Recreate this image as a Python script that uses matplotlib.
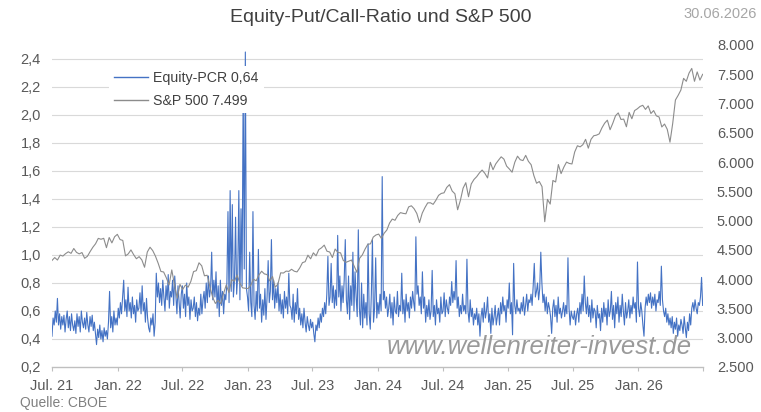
import matplotlib
matplotlib.use('Agg')
import matplotlib.pyplot as plt
import pandas as pd

plt.rcParams['font.family'] = ['Liberation Sans', 'DejaVu Sans']

# Zeitraum der Daten
start_date = '2021-07-01'
end_date = '2026-06-30'

# Equity-Put/Call-Ratio, ca. 10 Werte je Monat
pcr_2021 = [
    0.42, 0.55, 0.50, 0.60, 0.52, 0.69, 0.50, 0.58, 0.47, 0.56,  # Jul
    0.50, 0.57, 0.45, 0.54, 0.60, 0.48, 0.56, 0.46, 0.58, 0.50,  # Aug
    0.46, 0.53, 0.44, 0.58, 0.49, 0.56, 0.45, 0.60, 0.52, 0.48,  # Sep
    0.55, 0.47, 0.59, 0.50, 0.45, 0.56, 0.49, 0.57, 0.46, 0.52,  # Okt
    0.44, 0.36, 0.47, 0.41, 0.50, 0.40, 0.46, 0.38, 0.48, 0.42,  # Nov
    0.46, 0.40, 0.52, 0.74, 0.48, 0.56, 0.45, 0.60, 0.50, 0.55,  # Dez
]
pcr_2022 = [
    0.50, 0.62, 0.55, 0.66, 0.58, 0.70, 0.82, 0.60, 0.68, 0.56,
    0.77, 0.60, 0.66, 0.55, 0.70, 0.58, 0.64, 0.52, 0.68, 0.60,
    0.62, 0.73, 0.58, 0.78, 0.60, 0.66, 0.52, 0.69, 0.55, 0.48,
    0.45, 0.55, 0.50, 0.58, 0.42, 0.52, 0.87, 0.70, 0.80, 0.66,
    0.76, 0.64, 0.82, 0.70, 0.60, 0.78, 0.68, 0.86, 0.62, 0.74,
    0.70, 0.82, 0.64, 0.85, 0.72, 0.58, 0.78, 0.66, 0.55, 0.72,
    0.78, 0.62, 0.72, 0.56, 0.80, 0.64, 0.70, 0.54, 0.68, 0.60,
    0.62, 0.70, 0.56, 0.66, 0.53, 0.62, 0.57, 0.72, 0.58, 0.68,
    0.74, 0.62, 0.80, 0.66, 0.85, 0.70, 0.76, 1.02, 0.68, 0.82,
    0.70, 0.88, 0.62, 0.78, 0.56, 0.82, 0.64, 0.74, 0.58, 0.72,
    0.68, 0.80, 1.31, 0.66, 1.46, 0.74, 1.36, 0.70, 0.82, 1.27,
    0.72, 0.86, 1.46, 0.68, 1.33, 0.78, 2.20, 0.90, 2.45, 0.76,
]
pcr_2023 = [
    0.70, 0.60, 1.02, 0.66, 0.56, 1.31, 0.64, 0.54, 0.74, 0.60,
    1.04, 0.62, 0.72, 0.52, 0.68, 0.57, 0.76, 0.54, 0.70, 0.96,
    0.66, 0.74, 1.11, 0.68, 0.82, 0.62, 0.76, 0.66, 0.80, 0.60,
    0.72, 0.58, 0.68, 0.55, 0.74, 0.62, 0.70, 0.58, 0.87, 0.64,
    0.62, 0.54, 0.72, 0.52, 0.66, 0.58, 0.76, 0.54, 0.62, 0.50,
    0.58, 0.48, 0.62, 0.52, 0.45, 0.56, 0.50, 0.46, 0.54, 0.48,
    0.52, 0.44, 0.38, 0.50, 0.46, 0.55, 0.48, 0.58, 0.52, 0.62,
    0.56, 0.66, 0.58, 0.72, 0.99, 0.64, 0.70, 0.94, 0.66, 0.78,
    0.62, 0.75, 0.64, 1.14, 0.70, 0.85, 0.60, 0.78, 0.66, 0.82,
    1.11, 0.68, 0.58, 0.85, 0.54, 0.78, 0.64, 1.02, 0.60, 0.88,
    0.70, 0.56, 1.18, 0.62, 0.50, 0.80, 0.48, 0.72, 0.55, 0.66,
    0.50, 1.08, 0.58, 0.47, 0.72, 1.11, 0.52, 0.62, 0.98, 0.55,
]
pcr_2024 = [
    0.66, 0.58, 0.72, 0.60, 1.56, 0.68, 0.74, 0.62, 0.70, 0.56,
    0.62, 0.72, 0.55, 0.66, 0.50, 0.70, 0.60, 0.58, 0.74, 0.56,
    0.64, 0.60, 0.87, 0.58, 0.68, 0.52, 0.72, 0.60, 0.66, 0.55,
    0.70, 0.62, 0.74, 0.66, 0.60, 1.13, 0.72, 0.78, 0.64, 0.70,
    0.58, 0.88, 0.62, 0.70, 0.52, 0.64, 0.56, 0.68, 0.54, 0.60,
    0.89, 0.56, 0.64, 0.50, 0.68, 0.58, 0.62, 0.52, 0.70, 0.58,
    0.60, 0.73, 0.56, 0.68, 0.62, 0.58, 0.70, 0.64, 0.81, 0.66,
    0.74, 0.68, 0.96, 0.62, 0.70, 0.56, 0.64, 0.58, 0.72, 0.60,
    0.64, 0.58, 0.97, 0.60, 0.52, 0.68, 0.56, 0.62, 0.50, 0.58,
    0.54, 0.62, 0.50, 0.58, 0.42, 0.56, 0.62, 0.52, 0.66, 0.55,
    0.60, 0.70, 0.52, 0.58, 0.44, 0.62, 0.50, 0.56, 0.64, 0.50,
    0.56, 0.62, 0.50, 0.66, 0.58, 0.70, 0.60, 0.64, 0.52, 0.68,
]
pcr_2025 = [
    0.62, 0.80, 0.58, 0.66, 0.43, 0.94, 0.64, 0.58, 0.68, 0.60,
    0.62, 0.58, 0.66, 0.60, 0.70, 0.57, 0.64, 0.72, 0.60, 0.68,
    0.66, 0.72, 0.64, 0.78, 0.94, 0.70, 0.74, 0.80, 0.68, 0.76,
    1.02, 0.80, 0.66, 0.72, 0.60, 0.70, 0.58, 0.66, 0.62, 0.56,
    0.44, 0.62, 0.68, 0.56, 0.64, 0.52, 0.70, 0.58, 0.62, 0.55,
    0.60, 0.66, 0.56, 0.64, 0.58, 0.98, 0.62, 0.50, 0.60, 0.56,
    0.54, 0.60, 0.50, 0.58, 0.62, 0.52, 0.66, 0.58, 0.72, 0.60,
    0.85, 0.66, 0.58, 0.70, 0.56, 0.64, 0.52, 0.68, 0.55, 0.62,
    0.60, 0.48, 0.64, 0.55, 0.58, 0.46, 0.62, 0.52, 0.66, 0.56,
    0.62, 0.50, 0.68, 0.56, 0.60, 0.74, 0.54, 0.64, 0.48, 0.66,
    0.58, 0.70, 0.52, 0.64, 0.56, 0.72, 0.60, 0.50, 0.66, 0.55,
    0.60, 0.68, 0.55, 0.64, 0.58, 0.70, 0.62, 0.66, 0.52, 0.95,
]
pcr_2026 = [
    0.62, 0.56, 0.66, 0.60, 0.50, 0.42, 0.62, 0.70, 0.64, 0.72,
    0.66, 0.73, 0.62, 0.70, 0.64, 0.72, 0.60, 0.68, 0.66, 0.74,
    0.64, 0.92, 0.68, 0.60, 0.56, 0.62, 0.52, 0.58, 0.50, 0.55,
    0.48, 0.56, 0.44, 0.52, 0.47, 0.55, 0.42, 0.50, 0.46, 0.54,
    0.50, 0.44, 0.56, 0.48, 0.41, 0.52, 0.46, 0.58, 0.50, 0.62,
    0.66, 0.60, 0.68, 0.62, 0.58, 0.66, 0.64, 0.70, 0.84, 0.64,
]

# S&P 500, 4 Werte je Monat
spx_2021 = [
    4320, 4369, 4327, 4411,
    4395, 4437, 4468, 4441,
    4524, 4458, 4432, 4455,
    4357, 4391, 4471, 4545,
    4605, 4697, 4682, 4698,
    4538, 4712, 4620, 4725,
]
spx_2022 = [
    4766, 4677, 4662, 4398,
    4432, 4500, 4418, 4349,
    4385, 4329, 4204, 4463,
    4546, 4488, 4393, 4272,
    4132, 4123, 4023, 3901,
    4158, 3901, 3675, 3912,
    3825, 3899, 3863, 3962,
    4130, 4145, 4280, 4228,
    4058, 4067, 3873, 3693,
    3586, 3640, 3583, 3753,
    3901, 3771, 3993, 3965,
    4072, 3934, 3852, 3845,
]
spx_2023 = [
    3840, 3895, 3999, 3973,
    4071, 4136, 4090, 4079,
    3970, 4046, 3862, 3917,
    4109, 4105, 4138, 4133,
    4169, 4136, 4124, 4192,
    4282, 4299, 4410, 4348,
    4450, 4399, 4505, 4536,
    4582, 4478, 4464, 4370,
    4515, 4457, 4450, 4320,
    4288, 4308, 4327, 4224,
    4117, 4358, 4415, 4514,
    4595, 4604, 4719, 4755,
]
spx_2024 = [
    4770, 4697, 4784, 4840,
    4959, 5027, 5006, 5089,
    5137, 5124, 5117, 5234,
    5254, 5204, 5123, 4967,
    5128, 5223, 5303, 5305,
    5278, 5347, 5432, 5465,
    5475, 5567, 5615, 5505,
    5459, 5186, 5344, 5554,
    5648, 5408, 5626, 5703,
    5751, 5815, 5864, 5808,
    5729, 5996, 5870, 5969,
    6032, 6090, 6051, 5931,
]
spx_2025 = [
    5882, 5827, 5997, 6101,
    6040, 6026, 6115, 6013,
    5955, 5770, 5639, 5668,
    5581, 4982, 5363, 5283,
    5686, 5660, 5958, 5803,
    5912, 6000, 5977, 5968,
    6173, 6279, 6260, 6297,
    6389, 6238, 6389, 6450,
    6460, 6482, 6584, 6664,
    6716, 6553, 6664, 6792,
    6840, 6728, 6734, 6603,
    6849, 6740, 6880, 6910,
]
spx_2026 = [
    6950, 6970, 6900, 6960,
    6830, 6880, 6790, 6770,
    6600, 6650, 6560, 6340,
    6660, 7060, 7140, 7230,
    7430, 7380, 7520, 7600,
    7380, 7540, 7400, 7499,
]

x_ticks = ['2021-07-01', '2022-01-01', '2022-07-01', '2023-01-01', '2023-07-01',
           '2024-01-01', '2024-07-01', '2025-01-01', '2025-07-01', '2026-01-01',
           '2026-07-01']
x_labels = ['Jul. 21', 'Jan. 22', 'Jul. 22', 'Jan. 23', 'Jul. 23', 'Jan. 24',
            'Jul. 24', 'Jan. 25', 'Jul. 25', 'Jan. 26', '']

pcr = pcr_2021 + pcr_2022 + pcr_2023 + pcr_2024 + pcr_2025 + pcr_2026
spx = spx_2021 + spx_2022 + spx_2023 + spx_2024 + spx_2025 + spx_2026
pcr_dates = pd.date_range(start_date, end_date, periods=len(pcr))
spx_dates = pd.date_range(start_date, end_date, periods=len(spx))

W, H = 761, 412
fig = plt.figure(figsize=(W / 100, H / 100), dpi=100)
ax1 = fig.add_axes([52 / W, 45 / H, 651 / W, 322 / H])
ax2 = ax1.twinx()

label_color = '#595959'
blue = '#4472C4'
grey = '#8c8c8c'

line_pcr, = ax1.plot(pcr_dates, pcr, color=blue, linewidth=0.8, zorder=3)
line_spx, = ax2.plot(spx_dates, spx, color=grey, linewidth=0.8, zorder=2)

# linke Achse
ax1.set_ylim(0.2, 2.5)
left_ticks = [0.2, 0.4, 0.6, 0.8, 1.0, 1.2, 1.4, 1.6, 1.8, 2.0, 2.2, 2.4]
ax1.set_yticks(left_ticks)
ax1.set_yticklabels([f'{t:.1f}'.replace('.', ',') for t in left_ticks])
for t in left_ticks[1:]:
    ax1.axhline(t, color='#d9d9d9', linewidth=0.8, zorder=0)

# rechte Achse
ax2.set_ylim(2500, 8000)
right_ticks = list(range(2500, 8001, 500))
ax2.set_yticks(right_ticks)
ax2.set_yticklabels([f'{t:,}'.replace(',', '.') for t in right_ticks])

# x-Achse
ax1.set_xlim(pd.Timestamp(start_date), pd.Timestamp('2026-07-01'))
ax1.set_xticks(pd.to_datetime(x_ticks))
ax1.set_xticklabels(x_labels)

for ax in (ax1, ax2):
    for side in ('top', 'left', 'right', 'bottom'):
        ax.spines[side].set_visible(False)
ax1.spines['bottom'].set_visible(True)
ax1.spines['bottom'].set_color('#bfbfbf')
ax1.spines['bottom'].set_linewidth(1.0)

ax1.tick_params(axis='x', direction='out', length=3, width=0.8, color='#bfbfbf',
                labelsize=10.5, labelcolor=label_color, pad=6)
ax1.tick_params(axis='y', length=0, labelsize=10.5, labelcolor=label_color, pad=8)
ax2.tick_params(axis='y', length=0, labelsize=10.5, labelcolor=label_color, pad=10)

# Legende
pcr_label = 'Equity-PCR ' + f'{pcr[-1]:.2f}'.replace('.', ',')
spx_label = 'S&P 500 ' + f'{spx[-1]:,}'.replace(',', '.')
leg = ax2.legend([line_pcr, line_spx], [pcr_label, spx_label],
                 loc='upper left', bbox_to_anchor=(0.088, 0.935),
                 fontsize=10.2, frameon=True, fancybox=False,
                 handlelength=2.4, handletextpad=0.35, labelspacing=0.65,
                 borderpad=0.35, borderaxespad=0)
leg.get_frame().set_facecolor('white')
leg.get_frame().set_edgecolor('none')
leg.get_frame().set_alpha(1)
for txt in leg.get_texts():
    txt.set_color('#404040')
for h in leg.legend_handles:
    h.set_linewidth(1.0)
leg.set_zorder(10)

# Texte
fig.text(0.5, 1 - 17 / H, 'Equity-Put/Call-Ratio und S&P 500', ha='center', va='center',
         fontsize=14, color='#404040')
fig.text(757 / W, 1 - 14 / H, '30.06.2026', ha='right', va='center',
         fontsize=10.5, color='#a6a6a6')
fig.text(20 / W, 1 - 403 / H, 'Quelle: CBOE', ha='left', va='center',
         fontsize=10, color='#808080')
fig.text(539 / W, 1 - 347 / H, 'www.wellenreiter-invest.de', ha='center', va='center',
         fontsize=18.5, style='italic', color='#9a9a9a', zorder=5)

fig.savefig('out.png', dpi=100)
